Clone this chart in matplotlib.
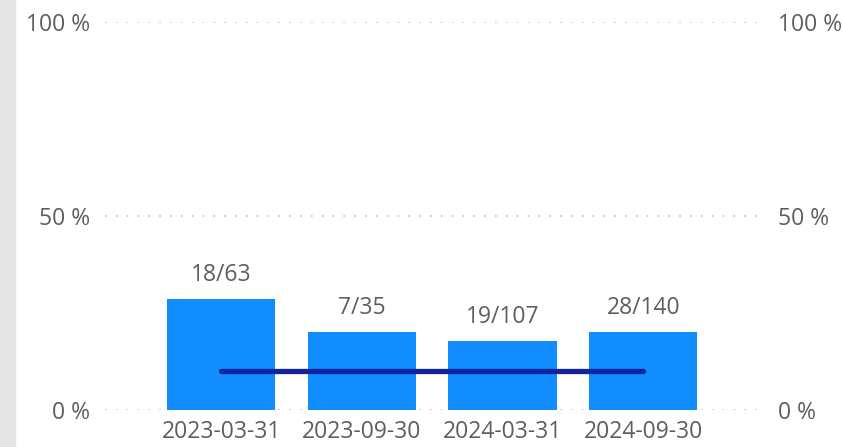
'''
Bar chart of ratios per period with target line
'''
import matplotlib.pyplot as plt
import matplotlib.patches as patches

periods = ['2023-03-31', '2023-09-30', '2024-03-31', '2024-09-30']
hits = [18, 7, 19, 28]
totals = [63, 35, 107, 140]
target = [10, 10, 10, 10]
ticks = [0, 50, 100]

plt.rcParams['font.family'] = ['Open Sans', 'DejaVu Sans']

pct = [100 * h / t for h, t in zip(hits, totals)]
labels = [f'{h}/{t}' for h, t in zip(hits, totals)]
pos = range(len(periods))
fs = 16.5

fig = plt.figure(figsize=(8.42, 4.47), dpi=100)
# gray strip on the left edge
fig.patches.append(patches.Rectangle((0, 0), 15 / 842, 1, transform=fig.transFigure,
                                     color='#E6E6E6', zorder=0))
ax = fig.add_axes([105 / 842, 37 / 447, 655 / 842, 388 / 447])

ax.bar(pos, pct, width=0.77, color='#118DFF', zorder=2)
ax.plot(pos, target, color='#12239E', linewidth=3.8, solid_capstyle='round', zorder=3)
for x, y, lab in zip(pos, pct, labels):
    ax.annotate(lab, (x, y), xytext=(0, 9), textcoords='offset points',
                ha='center', va='bottom', fontsize=fs, color='#605E5C')

ax.set_xlim(-0.825, 3.83)
ax.set_ylim(0, 100)
ax.set_yticks(ticks)
ax.set_yticklabels([f'{t} %' for t in ticks])
ax.set_xticks(list(pos))
ax.set_xticklabels(periods)
ax.grid(axis='y', color='#C8C6C4', linestyle=(0, (1, 5)), linewidth=1.3, zorder=0)
for s in ax.spines.values():
    s.set_visible(False)
ax.tick_params(axis='both', length=0, labelsize=fs, labelcolor='#605E5C')
ax.tick_params(axis='y', pad=11)
ax.tick_params(axis='x', pad=7)

ax2 = ax.twinx()
ax2.set_ylim(0, 100)
ax2.set_yticks(ticks)
ax2.set_yticklabels([f'{t} %' for t in ticks])
for s in ax2.spines.values():
    s.set_visible(False)
ax2.tick_params(axis='y', length=0, labelsize=fs, labelcolor='#605E5C', pad=13)

fig.savefig('out.png', dpi=100)
